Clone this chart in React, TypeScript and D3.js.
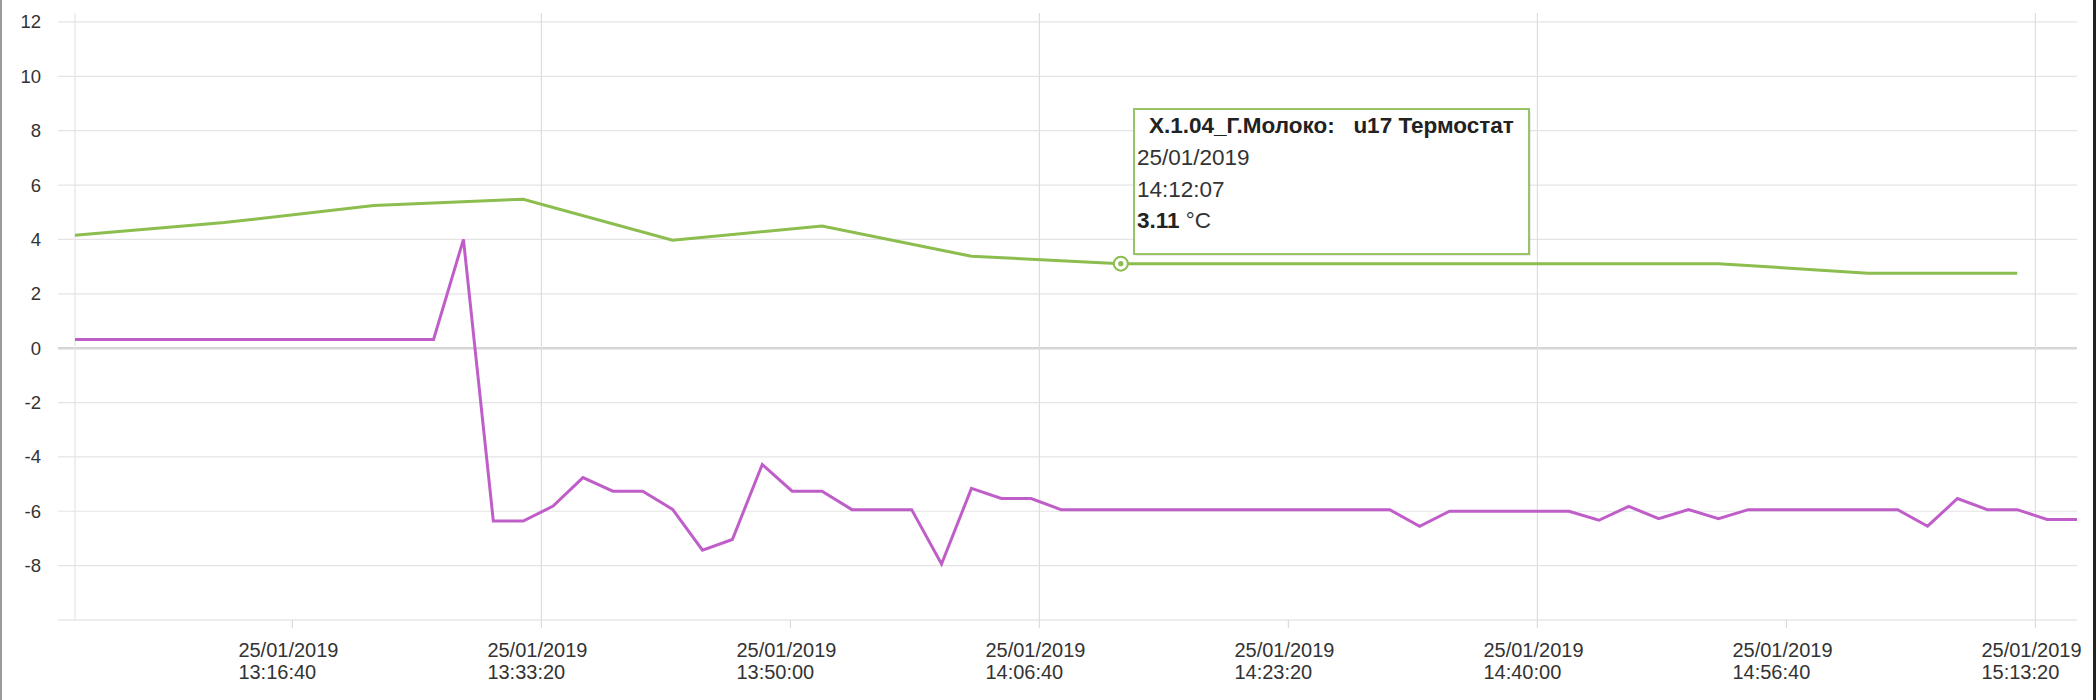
import React from "react";
import * as d3 from "d3";

const DAY = "25/01/2019";

// u17 Термостат (green), every 10 minutes
const greenTimes = [
  "13:02:07", "13:12:07", "13:22:07", "13:32:07", "13:42:07", "13:52:07", "14:02:07",
  "14:12:07", "14:22:07", "14:32:07", "14:42:07", "14:52:07", "15:02:07", "15:12:07",
];
const greenValues = [4.15, 4.62, 5.25, 5.48, 3.97, 4.49, 3.38, 3.11, 3.11, 3.11, 3.11, 3.11, 2.76, 2.76];

// second sensor (purple), every 2 minutes
const purpleTimes = [
  "13:02:07", "13:04:07", "13:06:07", "13:08:07", "13:10:07", "13:12:07", "13:14:07", "13:16:07",
  "13:18:07", "13:20:07", "13:22:07", "13:24:07", "13:26:07", "13:28:07", "13:30:07", "13:32:07",
  "13:34:07", "13:36:07", "13:38:07", "13:40:07", "13:42:07", "13:44:07", "13:46:07", "13:48:07",
  "13:50:07", "13:52:07", "13:54:07", "13:56:07", "13:58:07", "14:00:07", "14:02:07", "14:04:07",
  "14:06:07", "14:08:07", "14:10:07", "14:12:07", "14:14:07", "14:16:07", "14:18:07", "14:20:07",
  "14:22:07", "14:24:07", "14:26:07", "14:28:07", "14:30:07", "14:32:07", "14:34:07", "14:36:07",
  "14:38:07", "14:40:07", "14:42:07", "14:44:07", "14:46:07", "14:48:07", "14:50:07", "14:52:07",
  "14:54:07", "14:56:07", "14:58:07", "15:00:07", "15:02:07", "15:04:07", "15:06:07", "15:08:07",
  "15:10:07", "15:12:07", "15:14:07", "15:16:07",
];
const purpleValues = [
  0.32, 0.32, 0.32, 0.32, 0.32, 0.32, 0.32, 0.32, 0.32, 0.32, 0.32, 0.32, 0.32,
  4.0, -6.36, -6.36, -5.81, -4.76, -5.26, -5.26, -5.93, -7.43, -7.04, -4.28, -5.26, -5.26,
  -5.94, -5.94, -5.94, -7.94, -5.16, -5.53, -5.53,
  -5.94, -5.94, -5.94, -5.94, -5.94, -5.94, -5.94, -5.94, -5.94, -5.94, -5.94, -5.94,
  -6.55, -6.0, -6.0, -6.0, -6.0, -6.0,
  -6.33, -5.82, -6.27, -5.94, -6.27,
  -5.94, -5.94, -5.94, -5.94, -5.94, -5.94,
  -6.55, -5.53, -5.94, -5.94, -6.3, -6.3,
];

const xTickTimes = ["13:16:40", "13:33:20", "13:50:00", "14:06:40", "14:23:20", "14:40:00", "14:56:40", "15:13:20"];
const xGridTimes = ["13:33:20", "14:06:40", "14:40:00", "15:13:20"];
const yTicks = [-8, -6, -4, -2, 0, 2, 4, 6, 8, 10, 12];

const tooltipTitle = "X.1.04_Г.Молоко:\u00a0\u00a0 u17 Термостат";
const tooltipTime = "14:12:07";
const tooltipValue = 3.11;

const GREEN = "#8cbd4f";
const PURPLE = "#c05ec9";
const FONT = "'Liberation Sans', Arial, sans-serif";

const parse = d3.timeParse("%d/%m/%Y %H:%M:%S");
const t = (s: string) => parse(`${DAY} ${s}`) as Date;

const App: React.FC = () => {
  const width = 2100;
  const height = 700;
  const left = 75;
  const right = 2077;
  const top = 13;
  const bottom = 620;

  const x = d3
    .scaleTime()
    .domain([t(purpleTimes[0]), t(purpleTimes[purpleTimes.length - 1])])
    .range([left, right]);
  const y = d3.scaleLinear().domain([-10, 12.33]).range([bottom, top]);

  const line = d3
    .line<[Date, number]>()
    .x((d) => x(d[0]))
    .y((d) => y(d[1]));

  const greenPath = line(greenTimes.map((s, i) => [t(s), greenValues[i]]));
  const purplePath = line(purpleTimes.map((s, i) => [t(s), purpleValues[i]]));

  const mx = x(t(tooltipTime));
  const my = y(tooltipValue);

  return (
    <div style={{ position: "absolute", left: 0, top: 0, width, height, background: "#fff" }}>
      <svg width={width} height={height} style={{ display: "block", fontFamily: FONT }}>
        <rect x={0} y={0} width={width} height={height} fill="#fff" />
        {/* frame edges */}
        <rect x={0} y={0} width={2} height={height} fill="#9a9a9a" />
        <rect x={2093} y={0} width={3} height={height} fill="#222" />

        {/* horizontal grid */}
        {yTicks.map((v) => (
          <line
            key={`h${v}`}
            x1={58}
            x2={right}
            y1={y(v)}
            y2={y(v)}
            stroke={v === 0 ? "#d6d6d6" : "#e4e4e4"}
            strokeWidth={v === 0 ? 2.5 : 1.2}
          />
        ))}
        <line x1={58} x2={right} y1={bottom} y2={bottom} stroke="#dcdcdc" strokeWidth={1.2} />

        {/* vertical grid */}
        <line x1={left} x2={left} y1={top} y2={bottom} stroke="#e4e4e4" strokeWidth={1.2} />
        {xGridTimes.map((s) => (
          <line key={`v${s}`} x1={x(t(s))} x2={x(t(s))} y1={top} y2={bottom} stroke="#dedede" strokeWidth={1.2} />
        ))}
        {xTickTimes.map((s) => (
          <line key={`tk${s}`} x1={x(t(s))} x2={x(t(s))} y1={bottom} y2={bottom + 8} stroke="#dcdcdc" strokeWidth={1.2} />
        ))}

        {/* y labels */}
        {yTicks.map((v) => (
          <text key={`yl${v}`} x={41} y={y(v)} dy="0.35em" textAnchor="end" fontSize={18.5} fill="#333">
            {v}
          </text>
        ))}

        {/* x labels */}
        {xTickTimes.map((s) => (
          <text key={`xl${s}`} x={x(t(s)) - 54} fontSize={20} fill="#333">
            <tspan y={657}>{DAY}</tspan>
            <tspan x={x(t(s)) - 54} y={679}>
              {s}
            </tspan>
          </text>
        ))}

        {/* series */}
        <path d={purplePath ?? ""} fill="none" stroke={PURPLE} strokeWidth={3} />
        <path d={greenPath ?? ""} fill="none" stroke={GREEN} strokeWidth={3} />

        {/* hover marker */}
        <circle cx={mx} cy={my} r={7} fill="#fff" stroke={GREEN} strokeWidth={2} />
        <circle cx={mx} cy={my} r={2.6} fill={GREEN} />

        {/* tooltip */}
        <rect x={1136} y={111} width={395} height={145} fill="rgba(0,0,0,0.08)" />
        <rect x={1134} y={109} width={395} height={145} fill="#fff" stroke="#97c566" strokeWidth={2} />
        <text x={1149} y={133} fontSize={22.5} fontWeight="bold" fill="#222">
          {tooltipTitle}
        </text>
        <text x={1137} y={165} fontSize={22.5} fill="#333">
          {DAY}
        </text>
        <text x={1137} y={197} fontSize={22.5} fill="#333">
          {tooltipTime}
        </text>
        <text x={1137} y={228} fontSize={22.5} fill="#333">
          <tspan fontWeight="bold" fill="#222">
            {tooltipValue.toFixed(2)}
          </tspan>
          <tspan> °C</tspan>
        </text>
      </svg>
    </div>
  );
};

export default App;
